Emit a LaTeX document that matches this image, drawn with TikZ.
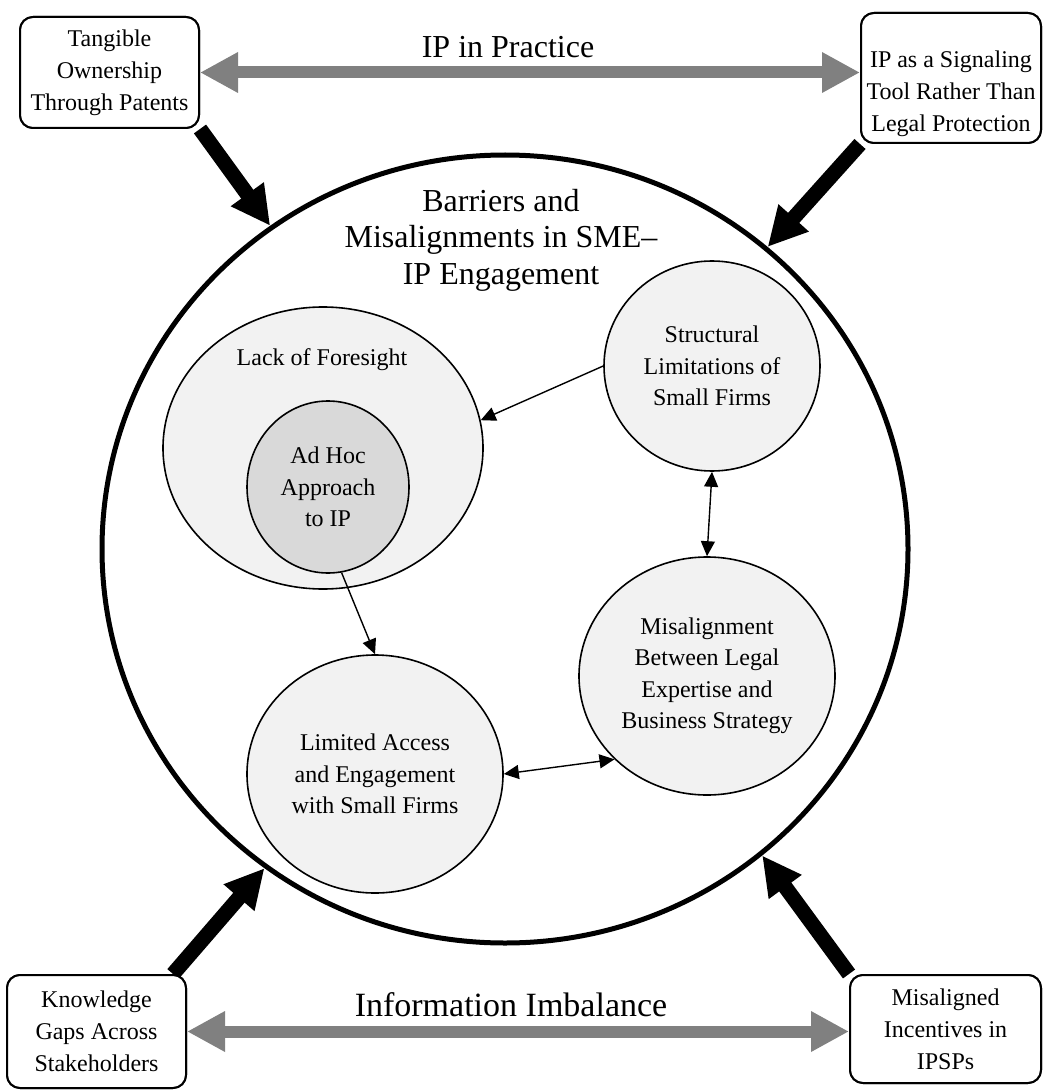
\documentclass[tikz,border=0pt]{standalone}
\usepackage{fontspec}
\setmainfont{Liberation Serif}
\usetikzlibrary{arrows.meta,shapes.geometric,calc}
\definecolor{bubblefill}{HTML}{F2F2F2}
\definecolor{corefill}{HTML}{D9D9D9}
\definecolor{arrowgray}{HTML}{808080}
\begin{document}
\begin{tikzpicture}[x=1pt,y=-1pt,
  bubble/.style={ellipse, draw, line width=1.6pt, fill=bubblefill, inner sep=0pt, align=center, font=\fontsize{24}{31.5}\selectfont},
  box/.style={rectangle, rounded corners=13pt, draw, line width=2pt, fill=white, align=center, inner sep=0pt, font=\fontsize{24}{32}\selectfont},
  thinarrow/.style={line width=1.4pt, -{Triangle[length=15pt,width=14pt]}},
  thinboth/.style={line width=1.4pt, {Triangle[length=15pt,width=14pt]}-{Triangle[length=15pt,width=14pt]}},
  bigarrow/.style={line width=15pt, -{Triangle[length=39pt,width=38pt]}},
  grayarrow/.style={line width=12pt, draw=arrowgray, {Triangle[length=38pt,width=38pt]}-{Triangle[length=38pt,width=38pt]}},
  bigtext/.style={font=\fontsize{32}{36.5}\selectfont, align=center}
]
\useasboundingbox (0,0) rectangle (1043,1091);
\fill[white] (0,0) rectangle (1043,1091);

% main circle
\node[ellipse, draw, line width=5pt, minimum width=806pt, minimum height=788pt, inner sep=0pt] (main) at (505,549) {};

% boxes (positions)
\coordinate (tlc) at (109.5,72.5);
\coordinate (trc) at (951,78);
\coordinate (blc) at (96.5,1031.5);
\coordinate (brc) at (945.5,1029);

\node[box, minimum width=179pt, minimum height=111pt] (tl) at (tlc) {Tangible\\Ownership\\Through Patents};
\node[box, minimum width=180pt, minimum height=130pt] (tr) at (trc) {};
\node[box, minimum width=179pt, minimum height=113pt] (bl) at (blc) {Knowledge\\Gaps Across\\Stakeholders};
\node[box, minimum width=191pt, minimum height=108pt] (br) at (brc) {Misaligned\\Incentives in\\IPSPs};

% thick black arrows (drawn under boxes by redrawing boxes after)
\draw[bigarrow] (tl.south east) -- (main.126);
\draw[bigarrow] (tr.south west) -- (main.49);
\draw[bigarrow] ($(bl.north east)+(-14,0)$) -- (main.233);
\draw[bigarrow] (br.north west) -- (main.-50);

% redraw boxes on top
\node[box, minimum width=179pt, minimum height=111pt] at (tlc) {Tangible\\Ownership\\Through Patents};
\node[box, minimum width=180pt, minimum height=130pt] at (trc) {};
\node[box, minimum width=179pt, minimum height=113pt] at (blc) {Knowledge\\Gaps Across\\Stakeholders};
\node[box, minimum width=191pt, minimum height=108pt] at (brc) {Misaligned\\Incentives in\\IPSPs};
\node[font=\fontsize{24}{32}\selectfont, align=center] (trtext) at (951,94) {IP as a Signaling\\Tool Rather Than\\Legal Protection};

% gray arrows
\draw[grayarrow] (tl.east) -- (tl.east -| tr.west);
\draw[grayarrow] (bl.east) -- (bl.east -| br.west);
\node[bigtext] (practice) at (508,47) {IP in Practice};
\node[font=\fontsize{34}{38}\selectfont] (imbalance) at (511,1005) {Information Imbalance};

% title
\node[bigtext] (title) at (501,240) {Barriers and\\Misalignments in SME–\\IP Engagement};

% inner bubbles
\node[bubble, minimum width=320pt, minimum height=282pt] (lack) at (323,448) {};
\node[font=\fontsize{24}{31.5}\selectfont] (lacklabel) at (322,360) {Lack of Foresight};
\node[bubble, fill=corefill, minimum width=162pt, minimum height=172pt] (adhoc) at (328,487) {Ad Hoc\\Approach\\to IP};
\node[bubble, minimum width=216pt, minimum height=210pt] (struct) at (712,366) {Structural\\Limitations of\\Small Firms};
\node[bubble, minimum width=256pt, minimum height=238pt] (misal) at (707,676) {Misalignment\\Between Legal\\Expertise and\\Business Strategy};
\node[bubble, minimum width=256pt, minimum height=238pt] (limited) at (375,774) {Limited Access\\and Engagement\\with Small Firms};

% thin arrows
\draw[thinarrow] (struct.west) -- (lack.10);
\draw[thinarrow] (adhoc.-81) -- (limited.north);
\draw[thinboth] (struct.south) -- (misal.north);
\draw[thinboth] (limited.east) -- (misal.222);
\end{tikzpicture}
\end{document}
